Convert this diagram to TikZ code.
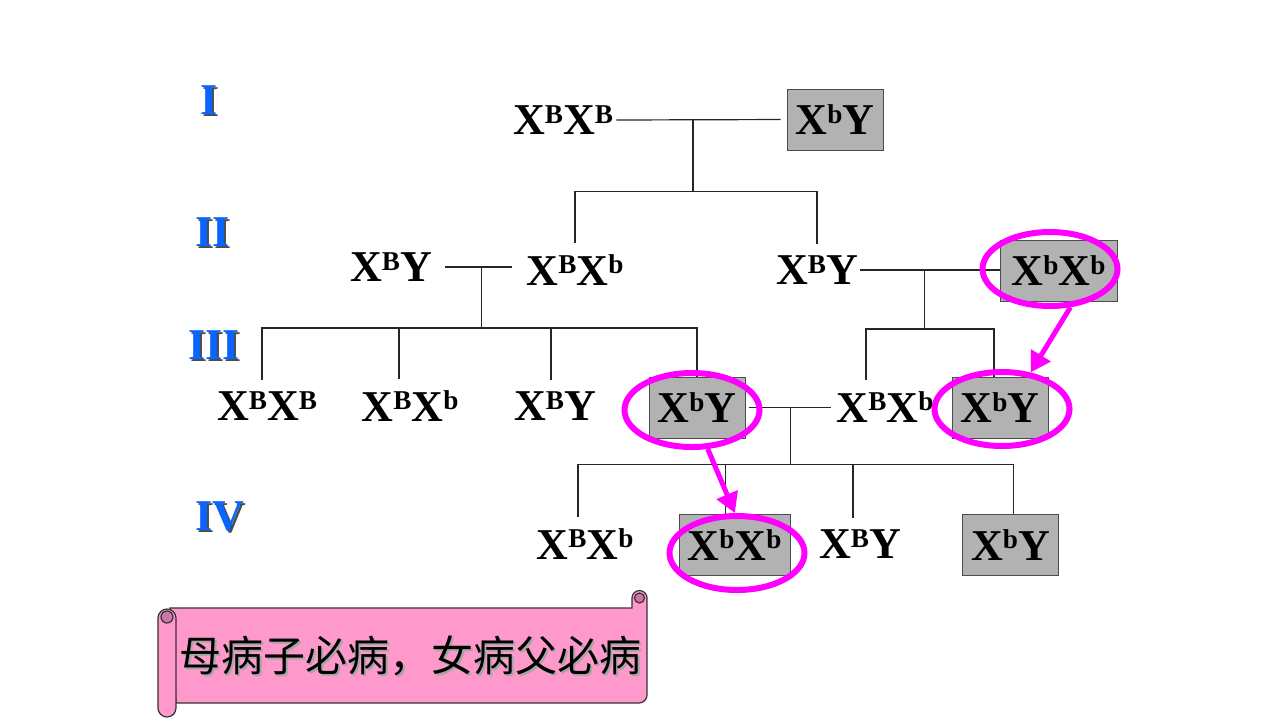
\documentclass[tikz,border=0pt]{standalone}
\usepackage{fontspec}
\setmainfont{Liberation Serif}
\newfontfamily\cjkfont{Noto Sans CJK SC}
\usetikzlibrary{shapes.geometric,arrows.meta,calc}

\definecolor{affgray}{RGB}{178,178,178}
\definecolor{genblue}{RGB}{10,100,255}
\definecolor{ringpink}{RGB}{255,0,255}
\definecolor{scrollpink}{RGB}{255,153,204}
\definecolor{scrollcurl}{RGB}{204,119,170}

\newcommand{\genofont}{\fontsize{22}{22}\selectfont\bfseries}
\newcommand{\allele}[1]{\raisebox{5.6pt}{\fontsize{13.6}{13.6}\selectfont #1}}
\newcommand{\dropshadow}[2]{\makebox[0pt][l]{\kern1pt\raisebox{-1pt}{\color{#1}#2}}#2}

\begin{document}
\begin{tikzpicture}[x=0.5pt, y=-0.5pt,
    geno/.style={font=\genofont, inner sep=0pt, outer ysep=6pt},
    sick/.style={font=\genofont, inner sep=0pt, fill=affgray, draw=black!70, line width=0.5pt,
                 minimum width=48pt, minimum height=30.5pt},
    gen/.style={font=\genofont, text=genblue, inner sep=0pt},
    link/.style={line width=0.6pt, draw=black!85},
    ring/.style={ellipse, draw=ringpink, line width=3pt, minimum width=67.5pt, minimum height=37pt, inner sep=0pt},
    hint/.style={draw=ringpink, line width=2.5pt, -{Triangle[length=10pt,width=11pt]}},
    scroll/.style={fill=scrollpink, draw=black!80, line width=0.6pt}]
    \useasboundingbox (0,0) rectangle (1280,720);

    \node[gen] (g1) at (209,101) {\dropshadow{black!70}{I}};
    \node[gen] (g2) at (213,233) {\dropshadow{black!70}{II}};
    \node[gen] (g3) at (214,346) {\dropshadow{black!70}{III}};
    \node[gen] (g4) at (220,517) {\dropshadow{black!70}{IV}};

    \node[geno] (i1) at (563,120) {X\allele{B}X\allele{B}};
    \node[sick] (i2) at (835,119.5) {X\allele{b}Y};

    \node[geno] (ii1) at (391,267) {X\allele{B}Y};
    \node[geno] (ii2) at (575,270) {X\allele{B}X\allele{b}};
    \node[geno] (ii3) at (817,270) {X\allele{B}Y};
    \node[sick, minimum width=58.5pt] (ii4) at (1058.5,270.5) {X\allele{b}X\allele{b}};

    \node[geno] (iii1) at (267,406) {X\allele{B}X\allele{B}};
    \node[geno] (iii2) at (410,406) {X\allele{B}X\allele{b}};
    \node[geno] (iii3) at (555,406) {X\allele{B}Y};
    \node[sick] (iii4) at (697,407.5) {X\allele{b}Y};
    \node[geno] (iii5) at (885,407) {X\allele{B}X\allele{b}};
    \node[sick] (iii6) at (1000,407.5) {X\allele{b}Y};

    \node[geno] (iv1) at (585,544) {X\allele{B}X\allele{b}};
    \node[sick, minimum width=55.5pt] (iv2) at (734.5,545) {X\allele{b}X\allele{b}};
    \node[geno] (iv3) at (860,544) {X\allele{B}Y};
    \node[sick] (iv4) at (1010.5,545) {X\allele{b}Y};

    \draw[link, shorten <=1.5pt, shorten >=3pt] (i1.east) -- coordinate[pos=.46] (c1) (i2.west);
    \draw[link] (c1) -- ++(0,72) coordinate (s1);
    \draw[link] (ii2.north) |- (s1) -| (ii3.north);

    \draw[link, shorten <=6.5pt, shorten >=7pt] (ii1.east) -- coordinate[pos=.52] (c2) (ii1.east -| ii2.west);
    \draw[link] (c2) -- ++(0,61) coordinate (s2);
    \draw[link] ([xshift=-2.5pt]iii1.north) |- (s2) -| (iii4.north);
    \draw[link] ([xshift=-5.5pt]iii2.north) |- (s2);
    \draw[link] ([xshift=-2pt]iii3.north) |- (s2);

    \draw[link, shorten <=1pt] (ii3.east) -- coordinate[pos=.47] (c3) (ii3.east -| ii4.west);
    \draw[link] (c3) -- ++(0,59) coordinate (s3);
    \draw[link] ([xshift=-9.5pt]iii5.north) |- (s3) -| ([xshift=-3pt]iii6.north);

    \draw[link, shorten <=1.5pt, shorten >=2.5pt] (iii4.east) -- coordinate[pos=.5] (c4) (iii4.east -| iii5.west);
    \draw[link] (c4) -- ++(0,57) coordinate (s4);
    \draw[link] ([xshift=-3.5pt]iv1.north) |- (s4) -| ([xshift=1.5pt]iv4.north);
    \draw[link] ([xshift=-4.5pt]iv2.north) |- (s4);
    \draw[link] ([xshift=-3.5pt]iv3.north) |- (s4);

    \node[ring] (r1) at (1050,269) {};
    \node[ring] (r2) at (1002,409) {};
    \node[ring] (r3) at (692,410) {};
    \node[ring] (r4) at (737,553) {};
    \draw[hint] (r1.-62) -- (r2.52);
    \draw[hint] (r3.-68) -- (r4.93);

    \filldraw[scroll] (170,608) -- (632,608) -- (632,598) arc[start angle=180, end angle=360, radius=7.5]
        -- (647,695) arc[start angle=0, end angle=90, radius=8] -- (176,703) -- cycle;
    \filldraw[fill=scrollcurl, draw=black!80, line width=0.6pt] (639.5,598) circle[radius=5];
    \filldraw[scroll, rounded corners=4.5pt] (158,609) rectangle (176,717);
    \filldraw[fill=scrollcurl, draw=black!80, line width=0.6pt] (167,617) circle[radius=6];
    \node[font=\cjkfont\fontsize{21}{21}\selectfont, inner sep=0pt] (motto) at (410,657)
        {\dropshadow{black!35}{母病子必病，女病父必病}};
\end{tikzpicture}
\end{document}
